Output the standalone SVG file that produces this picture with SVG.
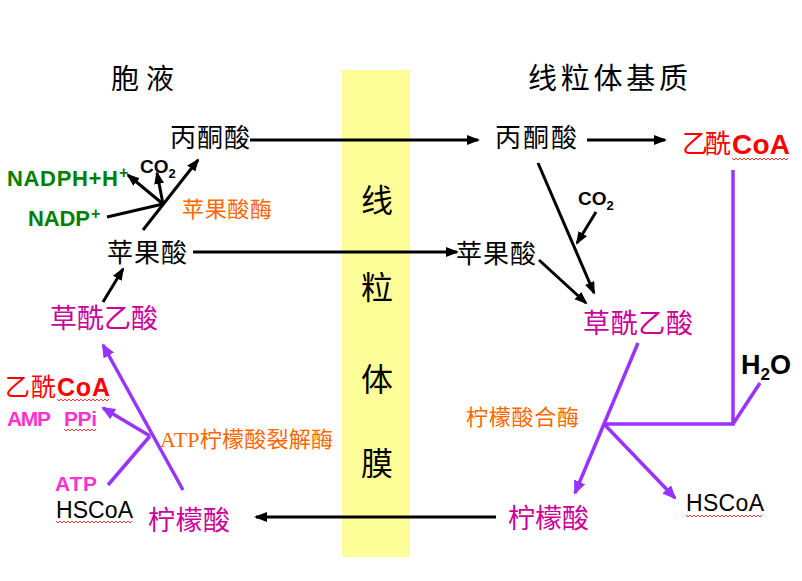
<svg xmlns="http://www.w3.org/2000/svg" width="802" height="581" viewBox="0 0 802 581">
<style>
.cjk{font-family:"Liberation Serif","Noto Sans CJK SC",serif;}
.lat{font-family:"Liberation Sans",Arial,sans-serif;}
.blk{fill:#000000;}
.mag{fill:#CC0099;}
.org{fill:#FF6600;}
.grn{fill:#008000;}
.red{fill:#FF0000;}
.pnk{fill:#FF33CC;}
.bl{stroke:#000000;stroke-width:3;fill:none;}
.pu{stroke:#9933FF;stroke-width:3.5;fill:none;}
.sq{stroke:#FF0000;stroke-width:0.8;fill:none;}
</style>
<defs>
<marker id="ab" markerUnits="userSpaceOnUse" markerWidth="14" markerHeight="12" refX="11" refY="5" orient="auto">
<path d="M0,0 L13,5 L0,10 z" fill="#000000"/>
</marker>
<marker id="ap" markerUnits="userSpaceOnUse" markerWidth="16" markerHeight="14" refX="12" refY="6" orient="auto">
<path d="M0,0 L14,6 L0,12 z" fill="#9933FF"/>
</marker>
</defs>
<rect x="0" y="0" width="802" height="581" fill="#FFFFFF"/>

<g id="membrane">
<rect x="342" y="70" width="68" height="487" fill="#FFFF99"/>
<text class="cjk blk" x="377" y="212" font-size="32" text-anchor="middle">线</text>
<text class="cjk blk" x="377" y="299" font-size="32" text-anchor="middle">粒</text>
<text class="cjk blk" x="377" y="391" font-size="32" text-anchor="middle">体</text>
<text class="cjk blk" x="377" y="475" font-size="32" text-anchor="middle">膜</text>
</g>

<g id="connectors">
<line class="bl" x1="250" y1="140" x2="478" y2="140" marker-end="url(#ab)"/>
<line class="bl" x1="587" y1="140" x2="665" y2="140" marker-end="url(#ab)"/>
<line class="bl" x1="193" y1="252" x2="457" y2="252" marker-end="url(#ab)"/>
<line class="bl" x1="496" y1="517" x2="256" y2="517" marker-end="url(#ab)"/>
<line class="bl" x1="538" y1="163" x2="594" y2="293" marker-end="url(#ab)"/>
<line class="bl" x1="596" y1="212" x2="577" y2="243" marker-end="url(#ab)"/>
<line class="bl" x1="539" y1="260" x2="586" y2="303" marker-end="url(#ab)"/>
<line class="bl" x1="143" y1="230" x2="198" y2="160" marker-end="url(#ab)"/>
<line class="bl" x1="107" y1="217" x2="163" y2="204"/>
<line class="bl" x1="163" y1="204" x2="128" y2="175" marker-end="url(#ab)"/>
<line class="bl" x1="163" y1="204" x2="157" y2="173" marker-end="url(#ab)"/>
<line class="bl" x1="103" y1="302" x2="123" y2="269" marker-end="url(#ab)"/>
<line class="pu" x1="183" y1="490" x2="103" y2="345" marker-end="url(#ap)"/>
<line class="pu" x1="108" y1="485" x2="150" y2="436"/>
<line class="pu" x1="150" y1="436" x2="103" y2="408" marker-end="url(#ap)"/>
<polyline class="pu" points="733,170 733,424 604,424"/>
<line class="pu" x1="733" y1="424" x2="760" y2="383"/>
<line class="pu" x1="638" y1="343" x2="575" y2="493" marker-end="url(#ap)"/>
<line class="pu" x1="604" y1="424" x2="675" y2="498" marker-end="url(#ap)"/>
</g>

<g id="title-cytosol"><text class="cjk blk" x="111" y="89" font-size="28" textLength="63" lengthAdjust="spacing">胞液</text></g>
<g id="title-matrix"><text class="cjk blk" x="528" y="89" font-size="29" textLength="160" lengthAdjust="spacing">线粒体基质</text></g>

<g id="pyruvate-left"><text class="cjk blk" x="170" y="147" font-size="26" textLength="80" lengthAdjust="spacing">丙酮酸</text></g>
<g id="pyruvate-right"><text class="cjk blk" x="495" y="147" font-size="26" textLength="82" lengthAdjust="spacing">丙酮酸</text></g>

<g id="acetylcoa-right">
<text class="cjk red" x="682" y="153" font-size="26" textLength="49" lengthAdjust="spacing">乙酰</text>
<text class="lat red" x="732" y="154" font-size="28" font-weight="bold" textLength="58" lengthAdjust="spacing">CoA</text>
<path class="sq" d="M732,158 l2,2 l2,-2 l2,2 l2,-2 l2,2 l2,-2 l2,2 l2,-2 l2,2 l2,-2 l2,2 l2,-2 l2,2 l2,-2 l2,2 l2,-2 l2,2 l2,-2 l2,2 l2,-2 l2,2 l2,-2 l2,2 l2,-2 l2,2 l2,-2 l2,2 l2,-2"/>
</g>

<g id="co2-right">
<text class="lat blk" x="578" y="205" font-size="19" font-weight="bold">CO<tspan font-size="13" dy="5">2</tspan></text>
</g>

<g id="malate-right"><text class="cjk blk" x="456" y="263" font-size="26" textLength="80" lengthAdjust="spacing">苹果酸</text></g>
<g id="oaa-right"><text class="cjk mag" x="583" y="333" font-size="27" textLength="110" lengthAdjust="spacing">草酰乙酸</text></g>

<g id="h2o">
<text class="lat blk" x="741" y="374" font-size="27" font-weight="bold">H<tspan font-size="17" dy="6">2</tspan><tspan dy="-6">O</tspan></text>
</g>

<g id="citrate-synthase"><text class="cjk org" x="466" y="425" font-size="22" textLength="113" lengthAdjust="spacing">柠檬酸合酶</text></g>

<g id="hscoa-right">
<text class="lat blk" x="686" y="511" font-size="23" textLength="78" lengthAdjust="spacing">HSCoA</text>
<path class="sq" d="M686,515 l2,2 l2,-2 l2,2 l2,-2 l2,2 l2,-2 l2,2 l2,-2 l2,2 l2,-2 l2,2 l2,-2 l2,2 l2,-2 l2,2 l2,-2 l2,2 l2,-2 l2,2 l2,-2 l2,2 l2,-2 l2,2 l2,-2 l2,2 l2,-2 l2,2 l2,-2 l2,2 l2,-2 l2,2 l2,-2 l2,2 l2,-2 l2,2 l2,-2 l2,2 l2,-2"/>
</g>

<g id="citrate-right"><text class="cjk mag" x="508" y="528" font-size="27" textLength="81" lengthAdjust="spacing">柠檬酸</text></g>
<g id="citrate-left"><text class="cjk mag" x="148" y="530" font-size="27" textLength="82" lengthAdjust="spacing">柠檬酸</text></g>

<g id="nadph">
<text class="lat grn" x="7" y="186" font-size="22" font-weight="bold" textLength="111" lengthAdjust="spacing">NADPH+H</text>
<text class="lat grn" x="119" y="178" font-size="16" font-weight="bold">+</text>
</g>
<g id="nadp">
<text class="lat grn" x="28" y="226" font-size="22" font-weight="bold" textLength="62" lengthAdjust="spacing">NADP</text>
<text class="lat grn" x="91" y="219" font-size="16" font-weight="bold">+</text>
</g>
<g id="co2-left">
<text class="lat blk" x="140" y="173" font-size="19" font-weight="bold">CO<tspan font-size="13" dy="5">2</tspan></text>
</g>
<g id="malic-enzyme"><text class="cjk org" x="182" y="217" font-size="22" textLength="90" lengthAdjust="spacing">苹果酸酶</text></g>
<g id="malate-left"><text class="cjk blk" x="107" y="262" font-size="26" textLength="80" lengthAdjust="spacing">苹果酸</text></g>
<g id="oaa-left"><text class="cjk mag" x="50" y="328" font-size="27" textLength="108" lengthAdjust="spacing">草酰乙酸</text></g>

<g id="acetylcoa-left">
<text class="cjk red" x="5" y="396" font-size="25" textLength="51" lengthAdjust="spacing">乙酰</text>
<text class="lat red" x="57" y="396" font-size="25" font-weight="bold" textLength="53" lengthAdjust="spacing">CoA</text>
<path class="sq" d="M57,399 l2,2 l2,-2 l2,2 l2,-2 l2,2 l2,-2 l2,2 l2,-2 l2,2 l2,-2 l2,2 l2,-2 l2,2 l2,-2 l2,2 l2,-2 l2,2 l2,-2 l2,2 l2,-2 l2,2 l2,-2 l2,2 l2,-2 l2,2 l2,-2"/>
</g>
<g id="amp-ppi">
<text class="lat pnk" x="7" y="426" font-size="21" font-weight="bold" textLength="44" lengthAdjust="spacing">AMP</text>
<text class="lat pnk" x="64" y="426" font-size="21" font-weight="bold" textLength="33" lengthAdjust="spacing">PPi</text>
<path class="sq" d="M64,429 l2,2 l2,-2 l2,2 l2,-2 l2,2 l2,-2 l2,2 l2,-2 l2,2 l2,-2 l2,2 l2,-2 l2,2 l2,-2 l2,2 l2,-2"/>
</g>
<g id="acl"><text class="org" x="160" y="447" font-size="22" textLength="173" lengthAdjust="spacing"><tspan font-family="Liberation Serif,serif">ATP</tspan><tspan font-family="Liberation Serif,Noto Sans CJK SC,serif">柠檬酸裂解酶</tspan></text></g>
<g id="atp"><text class="lat pnk" x="55" y="491" font-size="21" font-weight="bold" textLength="42" lengthAdjust="spacing">ATP</text></g>
<g id="hscoa-left">
<text class="lat blk" x="56" y="518" font-size="23" textLength="77" lengthAdjust="spacing">HSCoA</text>
<path class="sq" d="M56,521 l2,2 l2,-2 l2,2 l2,-2 l2,2 l2,-2 l2,2 l2,-2 l2,2 l2,-2 l2,2 l2,-2 l2,2 l2,-2 l2,2 l2,-2 l2,2 l2,-2 l2,2 l2,-2 l2,2 l2,-2 l2,2 l2,-2 l2,2 l2,-2 l2,2 l2,-2 l2,2 l2,-2 l2,2 l2,-2 l2,2 l2,-2 l2,2 l2,-2 l2,2 l2,-2"/>
</g>
</svg>
